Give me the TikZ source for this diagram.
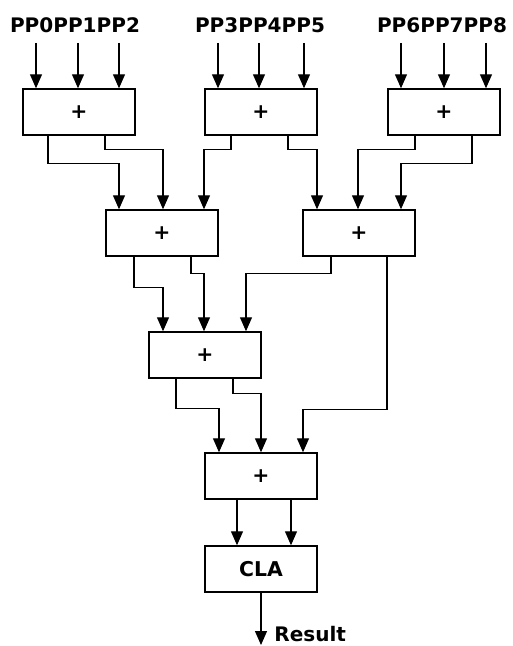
\documentclass[tikz,border=0pt]{standalone}
\usepackage{fontspec}
\setmainfont{DejaVu Sans}
\usetikzlibrary{arrows.meta}

\begin{document}
\begin{tikzpicture}[x=0.02cm,y=-0.02cm,
	adder/.style={draw,line width=0.85pt,minimum width=2.24cm,minimum height=0.92cm,inner sep=0pt,font=\fontsize{11.6}{13}\selectfont\bfseries},
	lab/.style={inner sep=0pt,font=\fontsize{11.4}{13}\selectfont\bfseries},
	wire/.style={line width=0.75pt,-{Triangle[length=0.28cm,width=0.24cm]}}]
	\useasboundingbox (0,0) rectangle (512,646);
	\node[lab] (in1) at (75,25) {PP0PP1PP2};
	\node[lab] (in2) at (260,25) {PP3PP4PP5};
	\node[lab] (in3) at (442,25) {PP6PP7PP8};
	\node[adder] (a1) at (79,112) {+};
	\node[adder] (a2) at (261,112) {+};
	\node[adder] (a3) at (444,112) {+};
	\node[adder] (b1) at (162,233) {+};
	\node[adder] (b2) at (359,233) {+};
	\node[adder] (c1) at (205,355) {+};
	\node[adder] (d1) at (261,476) {+};
	\node[adder] (cla) at (261,569) {CLA};
	\node[lab,anchor=west] (res) at (274,634) {Result};
	\coordinate (out) at (261,645);
	\foreach \x in {36,78,119}
		\draw[wire,shorten <=0.2cm] (in1.south -| \x,0) -- (a1.north -| \x,0);
	\foreach \x in {218,259,304}
		\draw[wire,shorten <=0.2cm] (in2.south -| \x,0) -- (a2.north -| \x,0);
	\foreach \x in {401,444,486}
		\draw[wire,shorten <=0.2cm] (in3.south -| \x,0) -- (a3.north -| \x,0);
	\draw[wire] (a1.south -| 48,0) -- ++(0,28) -| (b1.north -| 119,0);
	\draw[wire] (a1.south -| 105,0) -- ++(0,14) -| (b1.north -| 163,0);
	\draw[wire] (a2.south -| 231,0) -- ++(0,14) -| (b1.north -| 204,0);
	\draw[wire] (a2.south -| 288,0) -- ++(0,14) -| (b2.north -| 317,0);
	\draw[wire] (a3.south -| 415,0) -- ++(0,14) -| (b2.north -| 358,0);
	\draw[wire] (a3.south -| 472,0) -- ++(0,28) -| (b2.north -| 401,0);
	\draw[wire] (b1.south -| 134,0) -- ++(0,31) -| (c1.north -| 163,0);
	\draw[wire] (b1.south -| 191,0) -- ++(0,17) -| (c1.north -| 204,0);
	\draw[wire] (b2.south -| 331,0) -- ++(0,17) -| (c1.north -| 246,0);
	\draw[wire] (b2.south -| 387,0) -- ++(0,153) -| (d1.north -| 303,0);
	\draw[wire] (c1.south -| 176,0) -- ++(0,30) -| (d1.north -| 219,0);
	\draw[wire] (c1.south -| 233,0) -- ++(0,15) -| (d1.north -| 261,0);
	\draw[wire] (d1.south -| 237,0) -- (cla.north -| 237,0);
	\draw[wire] (d1.south -| 291,0) -- (cla.north -| 291,0);
	\draw[wire] (cla.south) -- (out);
\end{tikzpicture}
\end{document}
